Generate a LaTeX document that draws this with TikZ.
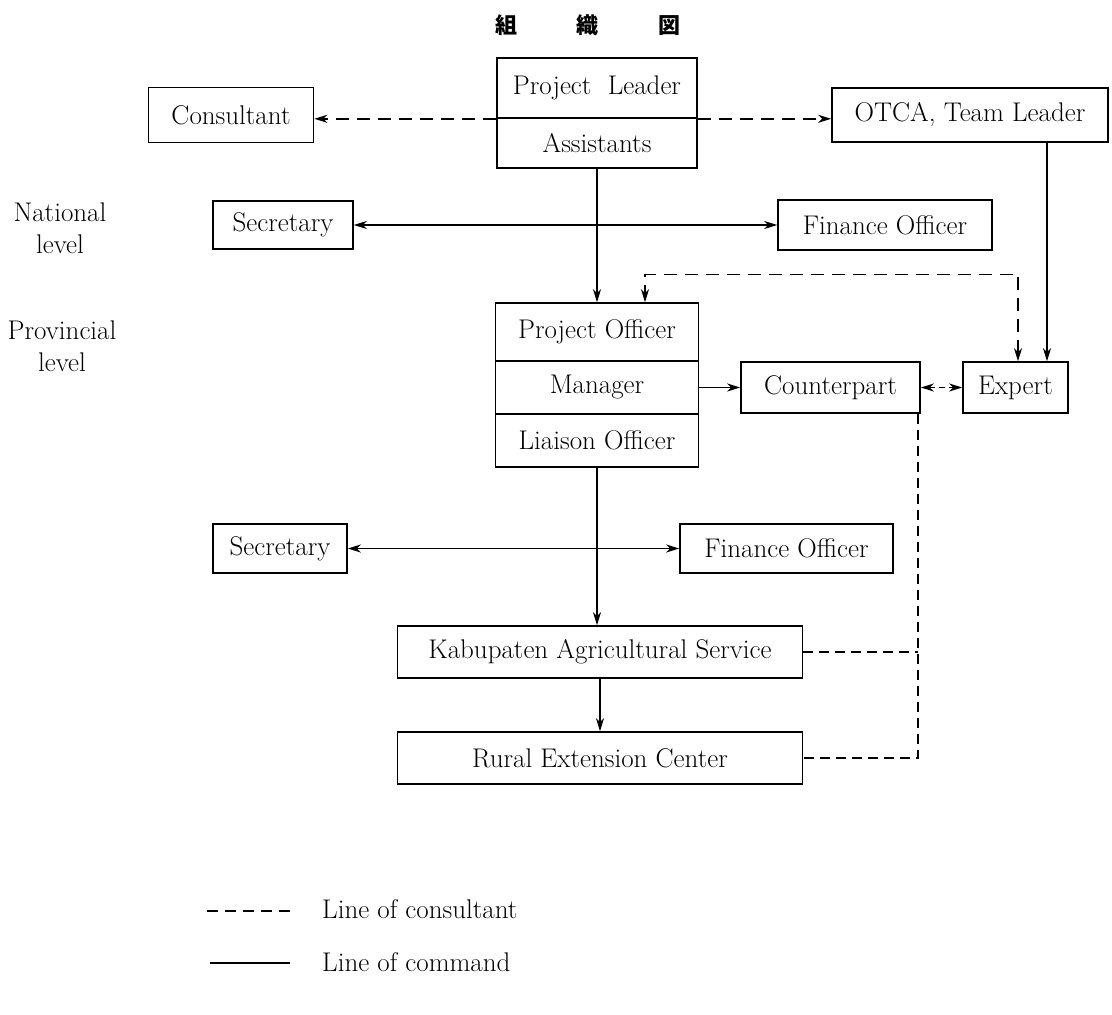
\documentclass[tikz,border=0pt]{standalone}
\usepackage{fontspec}
\newfontfamily\cjk{Noto Sans CJK JP}
\usetikzlibrary{arrows.meta,positioning,calc}
\tikzset{
  orgfont/.style={font=\fontsize{27}{32}\selectfont},
  orgbox/.style={draw, line width=1.6pt, inner sep=0pt, align=center, orgfont},
  lvl/.style={align=center, inner sep=0pt, orgfont},
  command/.style={line width=1.4pt, -{Stealth[length=13pt,width=8pt,inset=4pt]}},
  consult/.style={line width=1.4pt, dash pattern=on 13pt off 8pt},
  tip/.style={-{Stealth[length=13pt,width=8pt,inset=4pt]}},
  twotip/.style={{Stealth[length=13pt,width=8pt,inset=4pt]}-{Stealth[length=13pt,width=8pt,inset=4pt]}}
}
\begin{document}
\begin{tikzpicture}[x=1pt, y=-1pt]
  \useasboundingbox (0,0) rectangle (1112,1015);

  %% Title
  \node (title) at (588,25) {\fontsize{22}{26}\cjk\bfseries 組\hspace{60pt}織\hspace{60pt}図};

  %% Level labels
  \node[lvl] (natlvl)  at (60,228) {National\\level};
  \node[lvl] (provlvl) at (62,346) {Provincial\\level};

  %% National level
  \node[orgbox, minimum width=200pt, minimum height=60pt] (lead) at (597,88)  {Project\ \ Leader};
  \node[orgbox, minimum width=200pt, minimum height=50pt] (asst) at (597,143) {Assistants};
  \node[orgbox, minimum width=165pt, minimum height=55pt] (cons) at (231,115) {Consultant};
  \node[orgbox, minimum width=276pt, minimum height=54pt] (otca) at (970,115) {OTCA, Team Leader};
  \node[orgbox, minimum width=140pt, minimum height=48pt] (sec1) at (283,225) {Secretary};
  \node[orgbox, minimum width=214pt, minimum height=50pt] (fin1) at (885,225) {Finance Officer};

  %% Provincial level
  \node[orgbox, minimum width=203pt, minimum height=58pt] (po)  at (597,332) {Project Officer};
  \node[orgbox, minimum width=203pt, minimum height=53pt] (man) at (597,387.5) {Manager};
  \node[orgbox, minimum width=203pt, minimum height=53pt] (lia) at (597,440.5) {Liaison Officer};
  \node[orgbox, minimum width=179pt, minimum height=51pt] (ctp) at (830.5,387.5) {Counterpart};
  \node[orgbox, minimum width=105pt, minimum height=51pt] (exp) at (1015.5,387.5) {Expert};
  \node[orgbox, minimum width=134pt, minimum height=49pt] (sec2) at (280,548.5) {Secretary};
  \node[orgbox, minimum width=213pt, minimum height=49pt] (fin2) at (786.5,548.5) {Finance Officer};
  \node[orgbox, minimum width=405pt, minimum height=52pt] (kab) at (600,652) {Kabupaten Agricultural Service};
  \node[orgbox, minimum width=405pt, minimum height=52pt] (rur) at (600,758) {Rural Extension Center};

  \coordinate (otcafoot) at (1047,142);
  \coordinate (ctpfoot) at ([xshift=-3pt]ctp.south east);

  %% Line of command
  \draw[command] (asst.south) -- (po.north);
  \draw[command] (otcafoot) -- (otcafoot |- exp.north);
  \draw[line width=1.4pt, twotip] (sec1.east) -- (fin1.west);
  \draw[command] (man.east) -- (ctp.west);
  \draw[command] (lia.south) -- (lia.south |- kab.north);
  \draw[line width=1.4pt, twotip] (sec2.east) -- (fin2.west);
  \draw[command] (kab.south) -- (rur.north);

  %% Line of consultant
  \draw[consult, tip] (lead.south west) -- (lead.south west -| cons.east);
  \draw[consult, tip] (lead.south east) -- (lead.south east -| otca.west);
  \draw[consult, twotip] ([xshift=2.5pt]exp.north) -- ++(0,-87) -| ([xshift=48pt]po.north);
  \draw[consult, twotip, dash pattern=on 6pt off 4pt] (ctp.east) -- (exp.west);
  \draw[consult, dash pattern=on 10pt off 6pt] (ctpfoot) |- (rur.east);
  \draw[consult, dash pattern=on 10pt off 6pt] (kab.east) -- (kab.east -| ctpfoot);

  %% Legend
  \node[lvl, anchor=west] (lgcons) at (322,909) {Line of consultant};
  \node[lvl, anchor=west] (lgcmd)  at (322,962) {Line of command};
  \draw[consult, dash pattern=on 11pt off 7pt] ([xshift=-32pt,yshift=-2pt]lgcons.west) -- ++(-85,0);
  \draw[line width=1.4pt] ([xshift=-32pt,yshift=-1pt]lgcmd.west) -- ++(-80,0);
\end{tikzpicture}
\end{document}
